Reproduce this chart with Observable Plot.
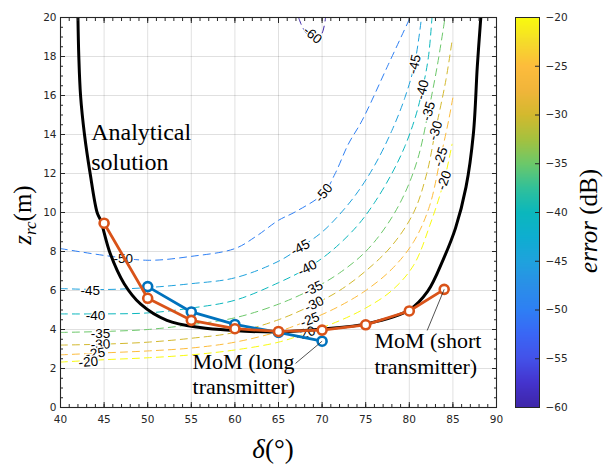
<!DOCTYPE html>
<html><head><meta charset="utf-8">
<script src="https://cdn.jsdelivr.net/npm/d3@7"></script>
<script src="https://cdn.jsdelivr.net/npm/@observablehq/plot@0.6"></script>
<style>
body{margin:0;background:#fff;}
#wrap{position:relative;width:603px;height:464px;overflow:hidden;background:#fff;}
#main,#cbar{position:absolute;top:0;}
#main{left:0;}
#cbar{left:500px;}
#cbar svg{background:transparent !important;}
</style></head><body>
<div id="wrap"><div id="main"></div><div id="cbar"></div></div>
<script>
// ---- tick values ----
const xTicks = [40,45,50,55,60,65,70,75,80,85,90];
const yTicks = [0,2,4,6,8,10,12,14,16,18,20];
const cbTicks = [-60,-55,-50,-45,-40,-35,-30,-25,-20];

// ---- MoM results ----
const deltaShort = [45,50,55,60,65,70,75,80,84];
const zShort     = [9.45,5.6,4.47,4.04,3.9,3.97,4.24,4.95,6.06];
const deltaLong  = [50,55,60,65,70];
const zLong      = [6.2,4.9,4.26,3.85,3.4];

// ---- analytical solution ----
const anaDelta = [42.0,42.1,42.3,42.75,43.4,44.2,44.6,45.7,47.3,49.2,52.2,56,59.8,64.85,70,75.2,80.0,82.1,83.9,85.3,86.5,87.35,87.8,88.2];
const anaZ     = [20,18,16,14,12,10,9.6,7.9,6.35,5.3,4.47,4.1,3.95,3.87,4.02,4.3,5.0,5.95,7.6,9.2,11.3,14.05,17.5,20];

// ---- error contours [delta, z] ----
const c60 = [[67.3,20],[67.7,19.55],[68.2,19.2],[68.9,19.0],[69.6,19.05],[70.0,19.2],[70.4,20]];
const c50 = [[40,8.15],[45,7.8],[50,7.55],[55,7.75],[60,8.15],[62.5,8.8],[65,9.6],[67,10.05],[70.2,11.0],[71.5,12],[73,13.5],[74.6,14.73],[77.5,17.5],[80.1,20]];
const c45 = [[40,6.1],[45,6.05],[50,6.15],[55,6.35],[60,6.65],[65,7.5],[67.5,8.2],[70,9.0],[72,9.9],[74,11.0],[76,12.4],[78,14.2],[79.5,15.9],[80.6,17.6],[81.4,20]];
const c40 = [[40,4.8],[45,4.8],[50,4.85],[55,5.1],[60,5.5],[65,6.4],[68.3,7.15],[71,8.0],[74,9.3],[76,10.5],[78,12.0],[79.5,13.4],[80.7,14.9],[81.5,16.3],[82.2,18],[82.6,20]];
const c35 = [[40,3.85],[45,3.9],[50,4.0],[55,4.25],[60,4.6],[65,5.3],[69,6.1],[72,6.9],[75,8.0],[77.5,9.4],[79.5,11.0],[81,12.8],[82.2,15.2],[83.2,17.5],[84.1,20]];
const c30 = [[40,3.2],[45,3.25],[50,3.35],[55,3.55],[60,3.85],[65,4.5],[69.1,5.3],[72,6.0],[75,7.0],[78,8.3],[80.5,10],[82,12],[83,14.2],[84.2,16.8],[84.9,18.8]];
const c25 = [[40,2.7],[45,2.8],[50,2.9],[55,3.05],[60,3.35],[65,3.9],[68.6,4.5],[72,5.2],[75,6.0],[78,7.1],[80.5,8.5],[82.3,10.3],[83.6,12.85],[84.5,14.7],[85,15.9]];
const c20 = [[40,2.33],[45,2.45],[50,2.55],[55,2.7],[60,2.95],[65,3.35],[68.1,3.8],[72,4.45],[75,5.1],[78,6.0],[80.5,7.3],[82.4,9.4],[84,11.65],[84.9,13.5]];

// ---- contour labels ----
const labelLevel = [-60,-50,-50,-45,-45,-45,-40,-40,-40,-35,-35,-35,-30,-30,-30,-25,-25,-25,-20,-20,-20];
const labelDelta = [68.9,47.2,70.2,43.4,67.5,80.6,44.0,68.3,81.5,44.6,69.0,82.2,44.6,69.1,83.0,44.0,68.6,83.6,43.2,68.1,84.0];
const labelZ     = [19.1,7.65,11.0,5.97,8.2,17.6,4.72,7.15,16.3,3.8,6.1,15.2,3.23,5.3,14.2,2.77,4.5,12.85,2.33,3.8,11.65];
const labelAngle = [40,0,-50,0,-28,-78,0,-28,-76,0,-25,-74,-3,-25,-72,-8,-22,-72,-5,-20,-70];

// ---- parula-like colormap ----
const parulaStops = ["#3e26a8","#4433cd","#4352e9","#3a66f5","#2e7ff4","#2a8fe8","#1fa2dd","#0eaed0","#0bb7bd","#31c09a","#6cc86a","#a5c13f","#d3b92e","#f1b53a","#fdbc3c","#f5dc2a","#f9fb0e"];
const colorDomain = parulaStops.map((_, i) => -60 + i * 40 / (parulaStops.length - 1));
const colorScale = {type: "linear", domain: colorDomain, range: parulaStops};

// ---- tables ----
const contourRows = [[-60,c60],[-50,c50],[-45,c45],[-40,c40],[-35,c35],[-30,c30],[-25,c25],[-20,c20]]
  .flatMap(([lv, pts]) => pts.map(([x, y]) => ({level: lv, x, y})));
const labelRows = labelLevel.map((lv, i) => ({level: lv, x: labelDelta[i], y: labelZ[i], angle: labelAngle[i]}));
const shortRows = deltaShort.map((x, i) => ({x, y: zShort[i]}));
const longRows = deltaLong.map((x, i) => ({x, y: zLong[i]}));
const anaRows = anaDelta.map((x, i) => ({x, y: anaZ[i]}));
const xMinor = d3.range(40, 91, 1);
const yMinor = d3.range(0, 20.01, 0.5);

const tickFont = {fontFamily: "DejaVu Sans", fontSize: 10.5, fill: "#262626"};
const serif = "Liberation Serif";
const blank = () => "";

const main = Plot.plot({
  width: 603, height: 464,
  marginLeft: 60, marginRight: 107, marginTop: 17, marginBottom: 57,
  x: {domain: [40, 90]},
  y: {domain: [0, 20]},
  color: colorScale,
  marks: [
    Plot.gridX(xTicks, {stroke: "#000", strokeOpacity: 0.12}),
    Plot.gridY(yTicks, {stroke: "#000", strokeOpacity: 0.12}),
    Plot.line(contourRows, {x: "x", y: "y", z: "level", stroke: "level", strokeWidth: 1, strokeDasharray: "7,5", curve: "catmull-rom", clip: true}),
    Plot.text(labelRows, {x: "x", y: "y", text: d => String(d.level), rotate: "angle", fontFamily: "Liberation Sans", fontSize: 13.5, fill: "#000", stroke: "white", strokeWidth: 2.5}),
    Plot.line(anaRows, {x: "x", y: "y", stroke: "#000", strokeWidth: 3, curve: "catmull-rom", clip: true}),
    Plot.line(longRows, {x: "x", y: "y", stroke: "#0072bd", strokeWidth: 2.8}),
    Plot.dot(longRows, {x: "x", y: "y", r: 4.5, stroke: "#0072bd", strokeWidth: 2.6, fill: "white"}),
    Plot.line(shortRows, {x: "x", y: "y", stroke: "#d95319", strokeWidth: 2.8}),
    Plot.dot(shortRows, {x: "x", y: "y", r: 4.5, stroke: "#d95319", strokeWidth: 2.6, fill: "white"}),
    Plot.link([{x1: 70, y1: 3.4, x2: 66.95, y2: 2.26}, {x1: 84, y1: 6.06, x2: 82.05, y2: 3.95}],
      {x1: "x1", y1: "y1", x2: "x2", y2: "y2", stroke: "#262626", strokeWidth: 0.8}),
    Plot.text(["Analytical\nsolution"], {x: 43.52, y: 13.43, text: d => d, textAnchor: "start", fontFamily: serif, fontSize: 24, lineHeight: 1.25, fill: "#000"}),
    Plot.text(["MoM (long\ntransmitter)"], {x: 55.14, y: 1.72, text: d => d, textAnchor: "start", fontFamily: serif, fontSize: 22, lineHeight: 1.136, fill: "#000"}),
    Plot.text(["MoM (short\ntransmitter)"], {x: 76.0, y: 2.82, text: d => d, textAnchor: "start", fontFamily: serif, fontSize: 22, lineHeight: 1.18, fill: "#000"}),
    Plot.frame({stroke: "#262626", strokeWidth: 1.1}),
    // inward major ticks
    Plot.axisX(xTicks, {anchor: "bottom", tickSize: 5, dy: -5, tickFormat: blank, label: null, stroke: "#262626"}),
    Plot.axisX(xTicks, {anchor: "top", tickSize: 5, dy: 5, tickFormat: blank, label: null, stroke: "#262626"}),
    Plot.axisY(yTicks, {anchor: "left", tickSize: 5, dx: 5, tickFormat: blank, label: null, stroke: "#262626"}),
    Plot.axisY(yTicks, {anchor: "right", tickSize: 5, dx: -5, tickFormat: blank, label: null, stroke: "#262626"}),
    // inward minor ticks
    Plot.axisX(xMinor, {anchor: "bottom", tickSize: 3, dy: -3, tickFormat: blank, label: null, stroke: "#262626"}),
    Plot.axisX(xMinor, {anchor: "top", tickSize: 3, dy: 3, tickFormat: blank, label: null, stroke: "#262626"}),
    Plot.axisY(yMinor, {anchor: "left", tickSize: 3, dx: 3, tickFormat: blank, label: null, stroke: "#262626"}),
    Plot.axisY(yMinor, {anchor: "right", tickSize: 3, dx: -3, tickFormat: blank, label: null, stroke: "#262626"}),
    // tick labels
    Plot.axisX(xTicks, {anchor: "bottom", tickSize: 0, tickPadding: 8, label: null, ...tickFont}),
    Plot.axisY(yTicks, {anchor: "left", tickSize: 0, tickPadding: 4, label: null, ...tickFont})
  ]
});

// axis titles
const ms = d3.select(main);
const xt = ms.append("text").attr("x", 273).attr("y", 458).attr("text-anchor", "middle")
  .attr("font-family", serif).attr("font-size", 27).attr("fill", "#000");
xt.append("tspan").attr("font-style", "italic").text("δ");
xt.append("tspan").text("(°)");
const yt = ms.append("text").attr("transform", "translate(31,215) rotate(-90)").attr("text-anchor", "middle")
  .attr("font-family", serif).attr("font-size", 25).attr("fill", "#000");
yt.append("tspan").attr("font-style", "italic").text("z");
yt.append("tspan").attr("font-style", "italic").attr("font-size", 17).attr("dy", 5).text("rc");
yt.append("tspan").attr("dy", -5).text("(m)");
document.getElementById("main").appendChild(main);

// ---- colorbar ----
const cbar = Plot.plot({
  width: 103, height: 464,
  marginLeft: 15, marginRight: 64, marginTop: 17, marginBottom: 57,
  x: {domain: [0, 1], axis: null},
  y: {domain: [-60, -20]},
  color: colorScale,
  style: {background: "transparent"},
  marks: [
    Plot.raster({x1: 0, x2: 1, y1: -60, y2: -20, width: 2, height: 400, fill: (x, y) => y}),
    Plot.frame({stroke: "#262626", strokeWidth: 1}),
    Plot.axisY(cbTicks, {anchor: "right", tickSize: 5, dx: -5, tickFormat: blank, label: null, stroke: "#262626"}),
    Plot.axisY(cbTicks, {anchor: "right", tickSize: 0, tickPadding: 6, label: null, tickFormat: d => "\u2212" + Math.abs(d), ...tickFont})
  ]
});
const cs = d3.select(cbar);
const ct = cs.append("text").attr("transform", "translate(97,221) rotate(-90)").attr("text-anchor", "middle")
  .attr("font-family", serif).attr("font-size", 25).attr("fill", "#000");
ct.append("tspan").attr("font-style", "italic").text("error");
ct.append("tspan").text(" (dB)");
document.getElementById("cbar").appendChild(cbar);
</script>
</body></html>
